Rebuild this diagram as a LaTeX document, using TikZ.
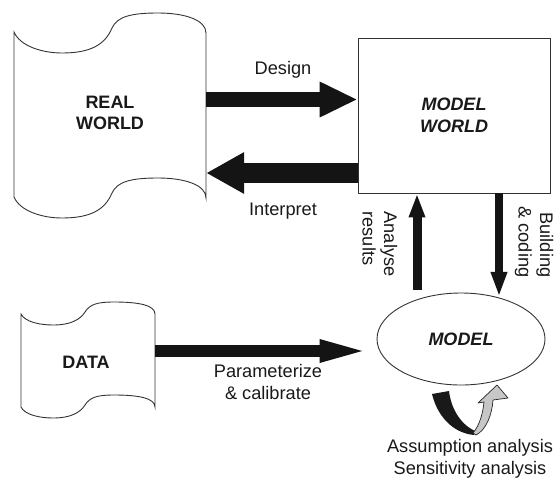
\documentclass[tikz,border=0pt]{standalone}
\usepackage{fontspec}
\setmainfont{Liberation Sans}
\usetikzlibrary{arrows.meta,shapes.geometric}
\tikzset{
  outline/.style={draw=black!80, line width=0.9pt},
  lbl/.style={font=\fontsize{18.2}{21.5}\selectfont, text=black!90, inner sep=0pt},
  blk/.style={lbl, font=\fontsize{18}{21.5}\selectfont\bfseries},
  fat/.style={draw=black!92, line width=#1},
}
\begin{document}
\begin{tikzpicture}[x=1pt,y=-1pt]
\useasboundingbox (0,0) rectangle (555,480);
% REAL WORLD shape
\draw[outline] (14,32) .. controls (20,46) and (42,53) .. (62,53)
  .. controls (90,53) and (105,45) .. (112,28)
  .. controls (117,17) and (130,13) .. (158,13)
  .. controls (185,13) and (206,20) .. (206,33)
  -- (206,198) .. controls (206,185) and (185,178) .. (158,178)
  .. controls (130,178) and (117,182) .. (112,193)
  .. controls (105,210) and (90,218) .. (62,218)
  .. controls (42,218) and (20,211) .. (14,197) -- cycle;
\node[blk, minimum width=192pt, align=center] (rw) at (110,113) {REAL\\WORLD};
% DATA shape
\draw[outline] (21,314) .. controls (25,322) and (40,325) .. (53,325)
  .. controls (70,325) and (80,320) .. (85,312)
  .. controls (90,304) and (98,302) .. (114,302)
  .. controls (138,302) and (155,305) .. (155,314)
  -- (155,407) .. controls (155,398) and (138,395) .. (114,395)
  .. controls (98,395) and (90,397) .. (85,405)
  .. controls (80,413) and (70,418) .. (53,418)
  .. controls (40,418) and (25,415) .. (21,407) -- cycle;
\node[blk, minimum width=134pt] (data) at (86,362) {DATA};
% MODEL WORLD box
\node[outline, minimum width=192pt, minimum height=155pt, inner sep=0pt,
  font=\fontsize{18}{21.5}\selectfont\bfseries\itshape, text=black!90, align=center]
  (mw) at (454,115.5) {MODEL\\WORLD};
% MODEL ellipse
\node[outline, ellipse, minimum width=168pt, minimum height=92pt, inner sep=0pt,
  font=\fontsize{18}{21.5}\selectfont\bfseries\itshape, text=black!90]
  (md) at (461,339) {MODEL};
\coordinate (arstart) at (417,290);
% fat arrows
\draw[fat=15pt, -{Triangle[length=38pt,width=33pt]}] (rw.east |- 0,99.5) -- (mw.west |- 0,99.5);
\draw[fat=20pt, -{Triangle[length=38pt,width=39pt]}] (mw.west |- 0,173) -- (rw.east |- 0,173);
\draw[fat=12pt, -{Triangle[length=57pt,width=19pt]}] ([xshift=2pt]data.east |- 0,351) -- (md.west |- 0,351);
\draw[fat=9pt, -{Triangle[length=24pt,width=15pt]}] (arstart) -- (mw.south -| 417,0);
\draw[fat=8pt, -{Triangle[length=25pt,width=15pt]}] (mw.south -| 499,0) -- (md.50 -| 499,0);
% labels
\node[lbl] (ldesign) at (283,70) {Design};
\node[lbl] (linterp) at (283,211) {Interpret};
\node[lbl, align=center] (lparam) at (268,382) {Parameterize\\\& calibrate};
\node[lbl, align=left, rotate=-90] (lanal) at (380,244) {Analyse\\results};
\node[lbl, align=right, rotate=-90] (lbuild) at (534,242) {Building\\\& coding};
\node[lbl, align=center] (lassum) at (470,459) {Assumption analysis\\Sensitivity analysis};
% loop arrow under the model
\fill[black!90] (432,394) -- (449,391) .. controls (451,408) and (460,424) .. (475,431)
  -- (474,435) .. controls (452,433) and (437,415) .. cycle;
\draw[fill=black!22, draw=black!85, line width=0.7pt, line join=round]
  (473,433) .. controls (480,425) and (483,412) .. (484,402)
  -- (478,403) -- (497,385) -- (508,398) -- (493,400)
  .. controls (492,415) and (486,430) .. (476,435) -- cycle;
\end{tikzpicture}
\end{document}
